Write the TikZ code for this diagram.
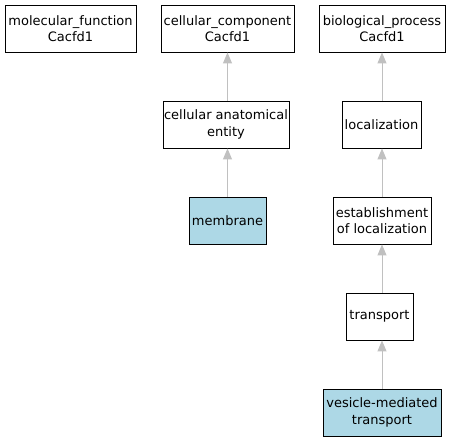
\documentclass[tikz,border=0pt]{standalone}
\usepackage{fontspec}
\setmainfont{DejaVu Sans}
\usetikzlibrary{arrows.meta,positioning}

\definecolor{termblue}{HTML}{ADD8E6}
\definecolor{edgegray}{HTML}{C0C0C0}

\begin{document}
\begin{tikzpicture}[x=1pt, y=-1pt, font=\fontsize{13}{16.5}\selectfont,
    term/.style={draw=black, line width=0.9pt, fill=white, minimum height=47pt,
                 inner xsep=1pt, inner ysep=2pt, align=center},
    hit/.style={term, fill=termblue},
    isa/.style={draw=edgegray, line width=1pt, -{Triangle[length=11pt, width=9pt]}}]
  \useasboundingbox (0,0) rectangle (451,443);
  % roots
  \node[term, minimum width=131pt] (mf) at (70.5, 28.5)  {molecular\_function\\Cacfd1};
  \node[term, minimum width=133pt] (cc) at (227.5, 28.5) {cellular\_component\\Cacfd1};
  \node[term, minimum width=126pt] (bp) at (382, 28.5)   {biological\_process\\Cacfd1};
  % cellular component branch
  \node[term, minimum width=126pt] (cae) at (226, 124.5)  {cellular anatomical\\entity};
  \node[hit, minimum width=77pt] (mem) at (227.5, 220.5)  {membrane};
  % biological process branch
  \node[term, minimum width=79pt] (loc) at (381.5, 124.5) {localization};
  \node[term, minimum width=98pt] (eol) at (382, 220.5)   {establishment\\of localization};
  \node[term, minimum width=67pt] (tra) at (379.5, 316.5) {transport};
  \node[hit, minimum width=118pt] (vmt) at (382, 412.5)   {vesicle-mediated\\transport};

  \draw[isa] (cc.south |- cae.north) -- (cc.south);
  \draw[isa] (mem.north) -- (mem.north |- cae.south);
  \draw[isa] (bp.south |- loc.north) -- (bp.south);
  \draw[isa] (eol.north) -- (eol.north |- loc.south);
  \draw[isa] (eol.south |- tra.north) -- (eol.south);
  \draw[isa] (vmt.north) -- (vmt.north |- tra.south);
\end{tikzpicture}
\end{document}
